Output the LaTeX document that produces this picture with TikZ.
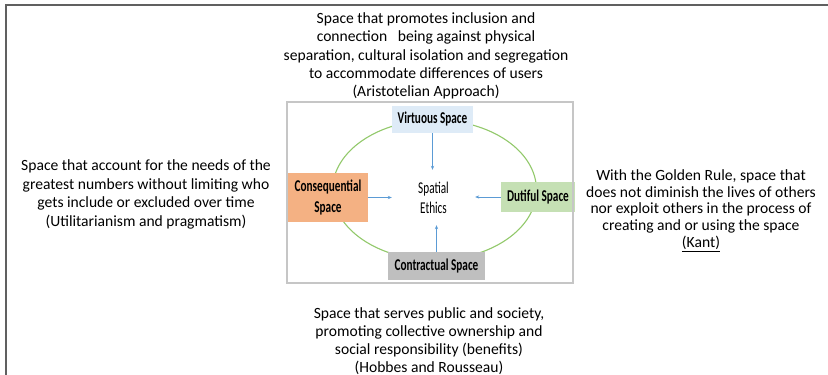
\documentclass[tikz,border=0pt]{standalone}
\usepackage{fontspec}
\setmainfont{Carlito}
\usetikzlibrary{arrows.meta,shadows}

\definecolor{virtblue}{HTML}{DEEBF7}
\definecolor{conorange}{HTML}{F4B183}
\definecolor{dutgreen}{HTML}{C5E0B4}
\definecolor{congray}{HTML}{BFBFBF}
\definecolor{ringgreen}{HTML}{92C96B}
\definecolor{arrblue}{HTML}{5B9BD5}

% labels inside the panel are set tall and narrow
\newcommand{\narrowtxt}[1]{\scalebox{0.68}[1]{#1}}

\tikzset{
  spacebox/.style={inner sep=0pt, align=center, font=\fontsize{16.5}{21}\selectfont\bfseries},
  note/.style={align=center, font=\fontsize{15.6}{18.4}\selectfont},
  arr/.style={draw=arrblue, line width=0.6pt, -{Stealth[length=4pt,width=3.2pt]}}
}

\begin{document}
\begin{tikzpicture}[x=1pt,y=-1pt]
    \useasboundingbox (0,0) rectangle (828,375);
    % outer frame, top and left only
    \draw [gray!75!black, line width=1.6pt] (6,375)--(6,5)--(828,5);
    % framed inner panel
    \fill [white, drop shadow={opacity=0.35,shadow xshift=0pt,shadow yshift=0pt,shadow scale=1.01}] (287,102) rectangle (573,283);
    \draw [ringgreen, line width=1.1pt] (434.5,190) ellipse (102 and 70);
    \node [spacebox, fill=virtblue, minimum width=81pt, minimum height=27pt] (virt) at (432.5,119.5) {\narrowtxt{Virtuous Space}};
    \node [spacebox, fill=conorange, minimum width=80pt, minimum height=49pt] (conseq) at (328,197.5) {\narrowtxt{Consequential}\\\narrowtxt{Space}};
    \node [spacebox, fill=dutgreen, minimum width=74pt, minimum height=30pt] (dut) at (538,197) {\narrowtxt{Dutiful Space}};
    \node [spacebox, fill=congray, minimum width=97pt, minimum height=28pt] (contr) at (436.5,266) {\narrowtxt{Contractual Space}};
    \node [align=center, font=\fontsize{16.5}{20}\selectfont, minimum width=83pt, minimum height=55pt, inner sep=0pt] (ethics) at (433.5,197.5) {\narrowtxt{Spatial}\\\narrowtxt{Ethics}};
    \draw [arr] (virt.south)--(virt.south |- ethics.north);
    \draw [arr] (conseq.east)--(ethics.west);
    \draw [arr] (dut.west)--(ethics.east |- dut.west);
    \draw [arr] (contr.north)--(contr.north |- ethics.south);
    \draw [gray!45, line width=1.2pt] (287,102) rectangle (573,283);
    % the four descriptions
    \node [note] (virtnote) at (426,56) {Space that promotes inclusion and\\connection\ \ \ being against physical\\separation, cultural isolation and segregation\\to accommodate differences of users\\(Aristotelian Approach)};
    \node [note] (connote) at (146,194.5) {Space that account for the needs of the\\greatest numbers without limiting who\\gets include or excluded over time\\(Utilitarianism and pragmatism)};
    \node [note, font=\fontsize{15.6}{16.8}\selectfont] (dutnote) at (701,210.5) {With the Golden Rule, space that\\does not diminish the lives of others\\nor exploit others in the process of\\creating and or using the space\\\underline{(Kant)}};
    \node [note, font=\fontsize{15.6}{18}\selectfont] (contrnote) at (429,341) {Space that serves public and society,\\promoting collective ownership and\\social responsibility (benefits)\\(Hobbes and Rousseau)};
\end{tikzpicture}
\end{document}
